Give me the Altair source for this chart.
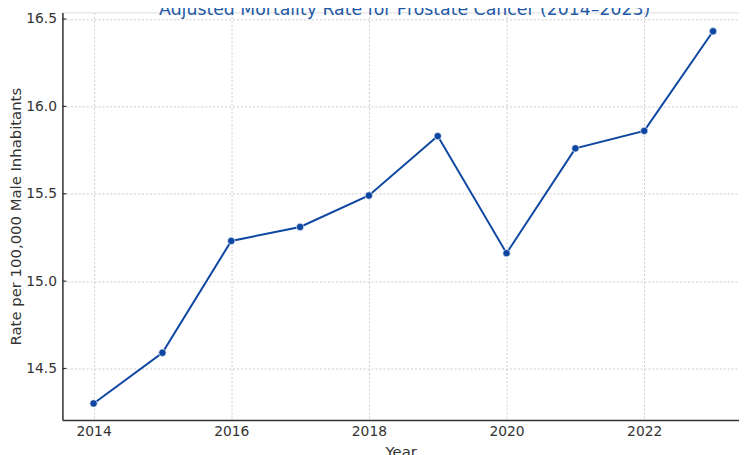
import altair as alt
import pandas as pd

# ---- data ----
years = [2014, 2015, 2016, 2017, 2018, 2019, 2020, 2021, 2022, 2023]
rates = [14.30, 14.59, 15.23, 15.31, 15.49, 15.83, 15.16, 15.76, 15.86, 16.43]
x_ticks = [2014, 2016, 2018, 2020, 2022]
y_ticks = [14.5, 15.0, 15.5, 16.0, 16.5]
title_text = ["Adjusted Mortality Rate for Prostate Cancer (2014–2023)"]

W, H = 684, 412
FONT = "DejaVu Sans"
BLUE = "#0d47a1"

df = pd.DataFrame({"Year": years, "Rate": rates})
tdf = pd.DataFrame({"t": title_text})
ydf = pd.DataFrame({"tick": y_ticks})

x_scale = alt.Scale(domain=[2013.547, 2023.377], nice=False, zero=False)
y_scale = alt.Scale(domain=[14.2056, 16.538], nice=False, zero=False)

x_enc = alt.X(
    "Year:Q",
    scale=x_scale,
    axis=alt.Axis(
        values=x_ticks, format="d", title="Year",
        grid=True, gridDash=[2, 2], gridColor="#cccccc", gridWidth=1,
        domainColor="#333333", domainWidth=1.5, ticks=False,
        labelFont=FONT, labelFontSize=14, labelColor="#333333", labelPadding=5,
        titleFont=FONT, titleFontSize=15, titleFontWeight="normal",
        titleColor="#333333", titlePadding=6,
    ),
)
y_enc = alt.Y(
    "Rate:Q",
    scale=y_scale,
    axis=alt.Axis(
        values=y_ticks, format=".1f", title="Rate per 100,000 Male Inhabitants",
        grid=True, gridDash=[2, 2], gridColor="#cccccc", gridWidth=1,
        domainColor="#333333", domainWidth=1.5, ticks=False,
        labelFont=FONT, labelFontSize=14, labelColor="#333333", labelPadding=6,
        titleFont=FONT, titleFontSize=15, titleFontWeight="normal",
        titleColor="#333333", titleX=-47, titleY=H / 2,
        titleAlign="center", titleBaseline="middle", titleAngle=270,
    ),
)

line = alt.Chart(df).mark_line(color=BLUE, strokeWidth=2).encode(x=x_enc, y=y_enc)
pts = alt.Chart(df).mark_circle(size=55, color=BLUE, opacity=1,
                                stroke="white", strokeWidth=0.6).encode(x="Year:Q", y="Rate:Q")
yticks = alt.Chart(ydf).mark_rule(color="#333333", strokeWidth=1.2).encode(
    y=alt.Y("tick:Q", scale=y_scale), x=alt.value(0), x2=alt.value(4)
)
title = alt.Chart(tdf).mark_text(
    font=FONT, fontSize=17.5, color="#1f5aa6", align="center", baseline="alphabetic"
).encode(text="t:N", x=alt.value(346), y=alt.value(3))

chart = (
    alt.layer(line, yticks, pts, title)
    .properties(
        width=W, height=H,
        autosize=alt.AutoSizeParams(type="none"),
        padding={"left": 55, "top": 2, "right": 0, "bottom": 33},
    )
    .configure_view(stroke=None)
    .configure(background="white")
)

chart.save("out.html", embed_options={"renderer": "svg", "actions": False})
